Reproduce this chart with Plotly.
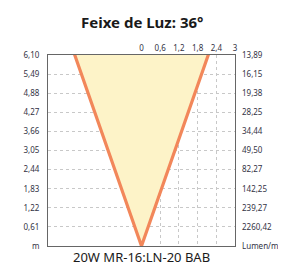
import plotly.graph_objects as go

title = "Feixe de Luz: 36°"
subtitle = "20W MR-16:LN-20 BAB"
heights = [0, 0.61, 1.22, 1.83, 2.44, 3.05, 3.66, 4.27, 4.88, 5.49, 6.10]
height_labels = ["m", "0,61", "1,22", "1,83", "2,44", "3,05", "3,66", "4,27", "4,88", "5,49", "6,10"]
lux_labels = ["Lumen/m²", "2260,42", "239,27", "142,25", "82,27", "49,50", "34,44", "28,25", "19,38", "16,15", "13,89"]
width_ticks = [0, 0.6, 1.2, 1.8, 2.4, 3]
width_labels = ["0", "0,6", "1,2", "1,8", "2,4", "3"]
beam_x = [-2.14, 0, 2.14]
beam_y = [6.10, 0, 6.10]
line_x = [-2.3, 0, 2.3]
line_y = [6.55, 0, 6.55]

fig = go.Figure()
fig.add_trace(go.Scatter(x=beam_x + [beam_x[0]], y=beam_y + [beam_y[0]], fill="toself",
                         fillcolor="#fdf3c8", line=dict(width=0), mode="lines",
                         hoverinfo="skip", showlegend=False))
fig.add_trace(go.Scatter(x=line_x, y=line_y, mode="lines",
                         line=dict(color="#f2875a", width=3.2), cliponaxis=False,
                         showlegend=False, hoverinfo="skip"))
fig.add_trace(go.Scatter(x=[0], y=[0], yaxis="y2", mode="markers",
                         marker=dict(opacity=0), showlegend=False, hoverinfo="skip"))

tickfont = dict(family="Noto Sans, Open Sans, sans-serif", size=8, color="#333344")
fig.update_layout(
    width=286, height=265,
    margin=dict(l=40, r=51, t=47, b=27),
    paper_bgcolor="white", plot_bgcolor="white",
    xaxis=dict(range=[-3, 3], side="top", tickvals=width_ticks, ticktext=width_labels,
               showgrid=True, gridcolor="#c8c8c8", griddash="dot", gridwidth=1,
               zeroline=False, showline=True, linecolor="#666666", mirror=True,
               ticks="", tickfont=tickfont, fixedrange=True),
    yaxis=dict(range=[0, 6.10], tickvals=heights, ticktext=height_labels,
               showgrid=True, gridcolor="#c8c8c8", griddash="dot", gridwidth=1,
               zeroline=False, showline=True, linecolor="#666666", mirror=True,
               ticks="", tickfont=tickfont, ticklabelstandoff=6),
    yaxis2=dict(range=[0, 6.10], overlaying="y", side="right", tickvals=heights,
                ticktext=lux_labels, showgrid=False, zeroline=False, showline=False,
                ticks="", tickfont=tickfont, ticklabelstandoff=6),
    annotations=[
        dict(text="<b>" + title + "</b>", x=0.5, y=1.0, xref="paper", yref="paper",
             xanchor="center", yanchor="bottom", yshift=21, showarrow=False,
             font=dict(family="Noto Sans, Open Sans, sans-serif", size=15, color="#1a1a1a")),
        dict(text=subtitle, x=0.5, y=0, xref="paper", yref="paper",
             xanchor="center", yanchor="top", yshift=-1, showarrow=False, borderpad=0,
             font=dict(family="Noto Sans, Open Sans, sans-serif", size=13, color="#1a1a1a")),
    ],
)
fig.write_html("out.html")
